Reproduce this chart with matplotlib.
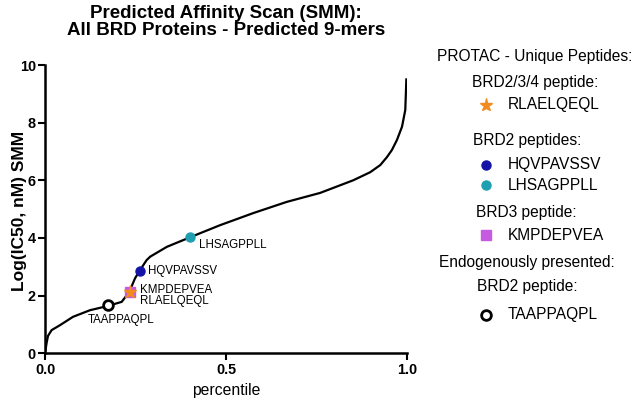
import matplotlib
matplotlib.use('Agg')
import matplotlib.pyplot as plt

plt.rcParams['font.family'] = ['Liberation Sans', 'DejaVu Sans']

# ranked predicted affinity curve
percentile = [0.0, 0.003, 0.007, 0.017, 0.04, 0.076, 0.123, 0.17, 0.211, 0.232,
              0.248, 0.26, 0.28, 0.29, 0.336, 0.40, 0.483, 0.575, 0.668, 0.76,
              0.852, 0.899, 0.927, 0.945, 0.959, 0.973, 0.987, 0.996, 0.999]
log_ic50 = [0.1, 0.35, 0.6, 0.8, 0.97, 1.26, 1.49, 1.63, 1.78, 2.13,
            2.6, 2.85, 3.23, 3.35, 3.69, 4.02, 4.44, 4.86, 5.25, 5.56,
            6.0, 6.28, 6.53, 6.8, 7.05, 7.4, 7.86, 8.44, 9.5]

# highlighted peptides
pep_names = ['TAAPPAQPL', 'KMPDEPVEA', 'RLAELQEQL', 'HQVPAVSSV', 'LHSAGPPLL']
pep_x = [0.173, 0.234, 0.234, 0.262, 0.40]
pep_y = [1.67, 2.13, 2.13, 2.85, 4.02]

fig = plt.figure(figsize=(6.38, 4.05), dpi=100)
ax = fig.add_axes([0.0713, 0.128, 0.5662, 0.7115])

ax.plot(percentile, log_ic50, color='black', lw=1.6, zorder=2)

styles = {
    'TAAPPAQPL': dict(marker='o', ms=7, mfc='white', mec='black', mew=2),
    'KMPDEPVEA': dict(marker='s', ms=6.5, mfc='#c65be0', mec='#c65be0'),
    'RLAELQEQL': dict(marker='*', ms=9.5, mfc='#f28a1e', mec='#f28a1e'),
    'HQVPAVSSV': dict(marker='o', ms=6.5, mfc='#1414a6', mec='#1414a6'),
    'LHSAGPPLL': dict(marker='o', ms=6.5, mfc='#1f9fb0', mec='#1f9fb0'),
}
label_off = {
    'TAAPPAQPL': (-0.055, -0.52),
    'KMPDEPVEA': (0.027, 0.06),
    'RLAELQEQL': (0.027, -0.32),
    'HQVPAVSSV': (0.022, 0.0),
    'LHSAGPPLL': (0.024, -0.27),
}
for name, x, y in zip(pep_names, pep_x, pep_y):
    ax.plot([x], [y], ls='none', zorder=3, **styles[name])
    dx, dy = label_off[name]
    ax.text(x + dx, y + dy, name, fontsize=8.3, va='center', ha='left')

ax.set_xlim(0, 1.0)
ax.set_ylim(0, 10)
ax.set_xticks([0, 0.5, 1.0])
ax.set_xticklabels(['0.0', '0.5', '1.0'])
ax.set_yticks([0, 2, 4, 6, 8, 10])
for s in ['top', 'right']:
    ax.spines[s].set_visible(False)
for s in ['left', 'bottom']:
    ax.spines[s].set_linewidth(1.8)
ax.tick_params(width=1.5, length=5, labelsize=10.4, pad=2)
for lab in ax.get_xticklabels() + ax.get_yticklabels():
    lab.set_fontweight('bold')
ax.set_xlabel('percentile', fontsize=11.3)
ax.xaxis.set_label_coords(0.5, -0.105)
ax.set_ylabel('Log(IC50, nM) SMM', fontsize=12.5, fontweight='bold')
ax.yaxis.set_label_coords(-0.051, 0.495)

W, H = 638, 405
fig.text(226 / W, 1 - 22 / H,
         'Predicted Affinity Scan (SMM):\nAll BRD Proteins - Predicted 9-mers',
         fontsize=13.5, fontweight='bold', ha='center', va='center', linespacing=1.0)

# legend block on the right
def ftxt(x, y, s, **kw):
    fig.text(x / W, 1 - y / H, s, fontsize=11.2, va='center', **kw)

ftxt(535, 57, 'PROTAC - Unique Peptides:', ha='center')
ftxt(535, 82, 'BRD2/3/4 peptide:', ha='center')
ftxt(527, 140, 'BRD2 peptides:', ha='center')
ftxt(526, 212, 'BRD3 peptide:', ha='center')
ftxt(527, 262, 'Endogenously presented:', ha='center')
ftxt(527, 287, 'BRD2 peptide:', ha='center')

legend_rows = [('RLAELQEQL', 105), ('HQVPAVSSV', 165), ('LHSAGPPLL', 185),
               ('KMPDEPVEA', 235), ('TAAPPAQPL', 315)]
for name, y in legend_rows:
    st = dict(styles[name])
    fig.lines.append(matplotlib.lines.Line2D([486 / W], [1 - y / H], transform=fig.transFigure,
                                             ls='none', **st))
    ftxt(508, y, name, ha='left')

fig.savefig('out.png', dpi=100)
